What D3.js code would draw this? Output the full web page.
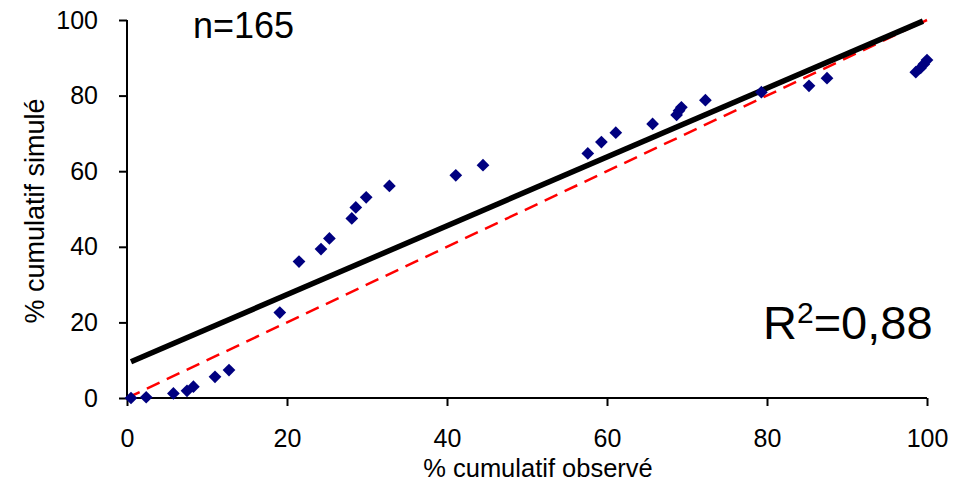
<!DOCTYPE html>
<html><head><meta charset="utf-8">
<script src="https://cdn.jsdelivr.net/npm/d3@7"></script>
<style>body{margin:0;background:#fff}svg{display:block}text{font-family:"Liberation Sans",Arial,sans-serif;fill:#000}</style>
</head><body><svg id="c" width="971" height="483"></svg>
<script>
const obsX = [0.5,2.4,5.8,7.5,8.3,11.0,12.75,19.1,21.5,24.25,25.3,28.1,28.6,29.9,32.8,41.1,44.5,57.6,59.3,61.1,65.7,68.7,69.0,69.3,72.3,79.3,85.25,87.5,98.6,99.2,99.6,100.0];
const simY = [0.0,0.2,1.2,1.9,3.0,5.6,7.4,22.6,36.1,39.4,42.2,47.5,50.4,53.1,56.1,58.9,61.6,64.7,67.7,70.2,72.5,74.9,76.0,76.9,78.8,80.9,82.6,84.6,86.2,87.3,88.3,89.4];
const fitX = [0.5, 99.5];
const fitY = [9.6, 99.7];
const refX = [0, 100];
const refY = [0, 100];
const tickVals = [0,20,40,60,80,100];
const nLabel = "n=165";
const r2Value = "=0,88";
const xTitle = "% cumulatif observé";
const yTitle = "% cumulatif simulé";

const svg = d3.select("#c");
const x = d3.scaleLinear().domain([0,100]).range([127,927]);
const y = d3.scaleLinear().domain([0,100]).range([398,20]);

const xAxis = svg.append("g").attr("transform","translate(0,398)")
  .call(d3.axisBottom(x).tickValues(tickVals).tickSize(8).tickPadding(23).tickFormat(d3.format("d")));
const yAxis = svg.append("g").attr("transform","translate(127,0)")
  .call(d3.axisLeft(y).tickValues(tickVals).tickSize(8).tickPadding(21).tickFormat(d3.format("d")));
[xAxis,yAxis].forEach(a=>{
  a.select(".domain").attr("stroke","#000").attr("stroke-width",2);
  a.selectAll(".tick line").attr("stroke","#000").attr("stroke-width",2);
  a.selectAll(".tick text").attr("font-size",25).attr("font-family","Liberation Sans, Arial, sans-serif").attr("fill","#000");
});
xAxis.select(".domain").attr("d", `M${x(0)},0H${x(100)}`);
yAxis.select(".domain").attr("d", `M0,${y(0)}V${y(100)}`);

const line = d3.line().x(d=>x(d[0])).y(d=>y(d[1]));
svg.append("path").datum(d3.zip(refX,refY)).attr("d",line)
  .attr("stroke","#ff0000").attr("stroke-width",2.5).attr("fill","none").attr("stroke-dasharray","14,8");
svg.append("path").datum(d3.zip(fitX,fitY)).attr("d",line)
  .attr("stroke","#000").attr("stroke-width",5.5).attr("fill","none");

const sym = d3.symbol().type(d3.symbolSquare).size(81);
svg.append("g").selectAll("path").data(d3.zip(obsX,simY)).join("path")
  .attr("d",sym)
  .attr("transform",d=>`translate(${x(d[0])},${y(d[1])}) rotate(45)`)
  .attr("fill","#000080");

svg.append("text").attr("x",538).attr("y",477).attr("text-anchor","middle").attr("font-size",25.5).text(xTitle);
svg.append("text").attr("transform","translate(44,211) rotate(-90)").attr("text-anchor","middle").attr("font-size",27).text(yTitle);

svg.append("text").attr("x",193).attr("y",38).attr("font-size",36).text(nLabel);
const r2 = svg.append("text").attr("x",763).attr("y",339).attr("font-size",47);
r2.append("tspan").text("R");
r2.append("tspan").attr("font-size",30).attr("dy",-16).text("2");
r2.append("tspan").attr("dy",16).text(r2Value);
</script></body></html>
